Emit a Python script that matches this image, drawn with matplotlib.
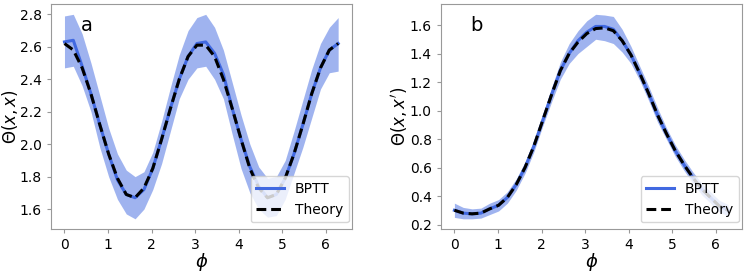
import numpy as np
import matplotlib

matplotlib.use("Agg")
import matplotlib.pyplot as plt  # noqa: E402

# 32 evenly spaced phase points on [0, 2*pi]
phi = np.linspace(0, 2 * np.pi, 32)

# panel a: Theta(x, x)
theory_a = [2.62, 2.58, 2.47, 2.31, 2.12, 1.94, 1.79, 1.69, 1.67, 1.73, 1.85,
            2.03, 2.22, 2.40, 2.54, 2.61, 2.61, 2.54, 2.40, 2.22, 2.03, 1.85,
            1.73, 1.67, 1.69, 1.79, 1.94, 2.12, 2.31, 2.47, 2.58, 2.62]
bptt_a = [2.63, 2.64, 2.48, 2.31, 2.12, 1.94, 1.78, 1.69, 1.67, 1.72, 1.85,
          2.03, 2.22, 2.40, 2.54, 2.62, 2.63, 2.56, 2.43, 2.22, 2.03, 1.86,
          1.74, 1.67, 1.69, 1.79, 1.94, 2.12, 2.31, 2.47, 2.58, 2.62]
upper_a = [2.79, 2.80, 2.68, 2.50, 2.30, 2.10, 1.94, 1.84, 1.80, 1.83, 1.95,
           2.14, 2.35, 2.55, 2.70, 2.78, 2.80, 2.72, 2.58, 2.38, 2.18, 2.00,
           1.86, 1.79, 1.80, 1.90, 2.08, 2.27, 2.46, 2.62, 2.72, 2.78]
lower_a = [2.47, 2.48, 2.36, 2.20, 1.98, 1.80, 1.66, 1.57, 1.54, 1.60, 1.72,
           1.88, 2.08, 2.28, 2.40, 2.47, 2.48, 2.40, 2.28, 2.06, 1.85, 1.70,
           1.60, 1.55, 1.56, 1.66, 1.82, 1.98, 2.16, 2.34, 2.44, 2.45]

# panel b: Theta(x, x')
theory_b = [0.30, 0.28, 0.275, 0.28, 0.31, 0.335, 0.39, 0.48, 0.60, 0.75, 0.93,
            1.11, 1.28, 1.40, 1.48, 1.54, 1.575, 1.58, 1.56, 1.49, 1.39, 1.26,
            1.12, 0.97, 0.84, 0.72, 0.62, 0.53, 0.45, 0.39, 0.33, 0.30]
bptt_b = [0.30, 0.28, 0.275, 0.28, 0.31, 0.335, 0.39, 0.48, 0.60, 0.75, 0.93,
          1.11, 1.28, 1.40, 1.49, 1.55, 1.59, 1.59, 1.57, 1.49, 1.39, 1.26,
          1.12, 0.97, 0.84, 0.72, 0.62, 0.53, 0.45, 0.39, 0.33, 0.30]
upper_b = [0.35, 0.32, 0.31, 0.315, 0.35, 0.375, 0.43, 0.52, 0.64, 0.79, 0.97,
           1.16, 1.34, 1.47, 1.56, 1.63, 1.675, 1.67, 1.66, 1.57, 1.45, 1.31,
           1.17, 1.02, 0.88, 0.76, 0.66, 0.57, 0.49, 0.43, 0.37, 0.34]
lower_b = [0.25, 0.24, 0.24, 0.245, 0.27, 0.295, 0.35, 0.44, 0.56, 0.71, 0.89,
           1.06, 1.22, 1.33, 1.40, 1.45, 1.50, 1.49, 1.47, 1.41, 1.33, 1.21,
           1.07, 0.92, 0.80, 0.68, 0.58, 0.49, 0.41, 0.35, 0.29, 0.26]

PANELS = [
    ("a", r"$\Theta(x,x)$", theory_a, bptt_a, upper_a, lower_a),
    ("b", r"$\Theta(x,x')$", theory_b, bptt_b, upper_b, lower_b),
]
BLUE = "royalblue"


def main():
    fig = plt.figure(figsize=(7.47, 2.73), dpi=100)
    lefts = [0.068, 0.590]
    for left, (tag, ylab, th, bp, up, lo) in zip(lefts, PANELS):
        ax = fig.add_axes([left, 0.161, 0.403, 0.824])
        ax.fill_between(phi, lo, up, color=BLUE, alpha=0.5, linewidth=0)
        ax.plot(phi, bp, color=BLUE, lw=2.2, label="BPTT")
        ax.plot(phi, th, color="black", lw=2.2, ls=(0, (3.2, 1.6)),
                label="Theory")
        ax.set_xticks(range(0, 7))
        ax.tick_params(labelsize=10, length=3, color="#999999")
        for sp in ax.spines.values():
            sp.set_color("#999999")
        ax.set_xlabel(r"$\phi$", fontsize=13, labelpad=-1)
        ax.set_ylabel(ylab, fontsize=12, labelpad=0)
        ax.text(0.12, 0.905, tag, transform=ax.transAxes, fontsize=14,
                va="center", ha="center")
        ax.legend(loc="lower right", fontsize=10, borderaxespad=0,
                  bbox_to_anchor=(0.99, 0.03))
    fig.savefig("out.png", dpi=100)


if __name__ == "__main__":
    main()
